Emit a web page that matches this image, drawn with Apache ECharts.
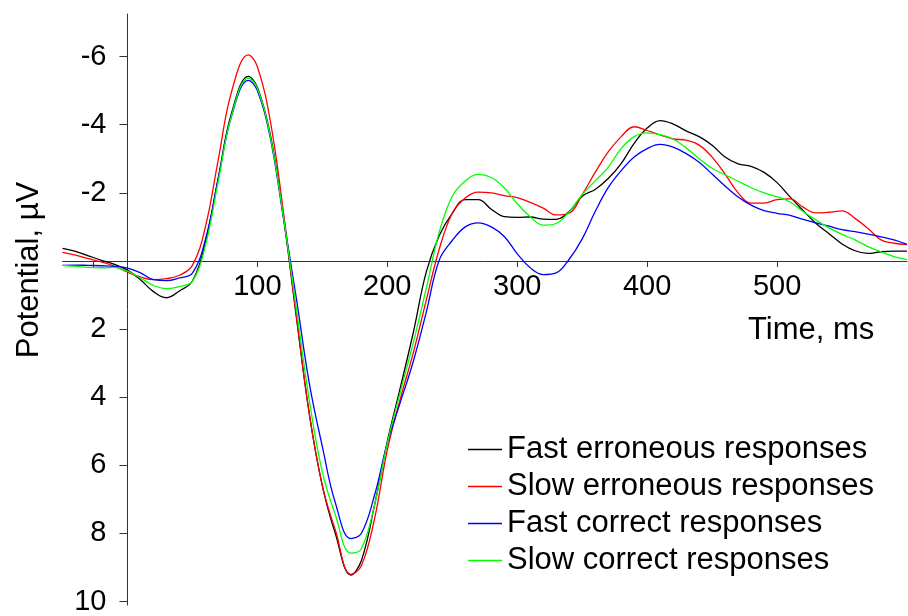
<!DOCTYPE html>
<html>
<head>
<meta charset="utf-8">
<script src="https://cdn.jsdelivr.net/npm/echarts@6/dist/echarts.min.js"></script>
<style>html,body{margin:0;padding:0;background:#fff}#c{width:908px;height:616px}</style>
</head>
<body>
<div id="c"></div>
<script>
const times = [-50,-40,-30,-20,-10,0,10,20,30,40,50,60,70,80,93,100,110,120,130,140,150,160,172,180,190,200,210,220,230,240,250,260,270,280,290,300,310,320,330,340,350,360,370,380,390,400,410,420,430,440,450,460,470,480,490,500,510,520,530,540,550,560,570,580,590,600];
const fastErroneous = [-0.37,-0.28,-0.15,-0.02,0.10,0.27,0.55,0.90,1.08,0.88,0.59,-0.55,-2.46,-4.32,-5.42,-5.10,-3.70,-1.30,1.65,4.50,6.60,8.00,9.22,8.80,7.20,5.30,3.72,2.10,0.32,-0.75,-1.40,-1.80,-1.80,-1.52,-1.30,-1.28,-1.29,-1.23,-1.22,-1.45,-1.90,-2.10,-2.42,-2.86,-3.45,-3.90,-4.12,-4.02,-3.82,-3.65,-3.40,-3.05,-2.85,-2.78,-2.60,-2.30,-1.88,-1.48,-1.10,-0.80,-0.50,-0.30,-0.22,-0.27,-0.29,-0.29];
const slowErroneous = [-0.25,-0.17,-0.07,0.03,0.15,0.33,0.47,0.55,0.52,0.42,0.13,-1.00,-3.00,-4.95,-6.05,-5.70,-4.10,-1.45,1.60,4.50,6.60,7.90,9.20,8.95,7.60,5.55,4.05,2.70,1.15,-0.35,-1.40,-1.85,-2.02,-2.00,-1.92,-1.86,-1.72,-1.55,-1.35,-1.40,-1.95,-2.60,-3.20,-3.65,-3.94,-3.83,-3.70,-3.58,-3.55,-3.40,-3.05,-2.55,-2.00,-1.70,-1.70,-1.80,-1.82,-1.58,-1.41,-1.43,-1.47,-1.25,-0.95,-0.62,-0.52,-0.48];
const fastCorrect = [0.13,0.12,0.13,0.14,0.16,0.21,0.35,0.55,0.58,0.50,0.36,-0.63,-2.44,-4.24,-5.30,-5.00,-3.60,-1.27,1.10,3.60,5.45,7.10,8.15,8.00,6.90,5.35,4.15,2.95,1.50,-0.03,-0.60,-1.00,-1.12,-1.00,-0.72,-0.21,0.20,0.40,0.35,-0.05,-0.65,-1.45,-2.15,-2.65,-3.05,-3.30,-3.42,-3.34,-3.15,-2.90,-2.55,-2.20,-1.88,-1.64,-1.48,-1.40,-1.34,-1.22,-1.12,-1.02,-0.92,-0.86,-0.79,-0.71,-0.62,-0.49];
const slowCorrect = [0.13,0.16,0.19,0.20,0.19,0.30,0.50,0.72,0.81,0.75,0.60,-0.45,-2.36,-4.25,-5.37,-5.07,-3.65,-1.30,1.40,4.10,6.20,7.45,8.58,8.45,7.20,5.35,3.85,2.40,0.80,-0.85,-1.90,-2.35,-2.54,-2.45,-2.15,-1.68,-1.30,-1.05,-1.10,-1.45,-1.95,-2.35,-2.75,-3.30,-3.65,-3.76,-3.71,-3.58,-3.32,-3.00,-2.72,-2.53,-2.34,-2.15,-2.00,-1.88,-1.73,-1.45,-1.20,-0.97,-0.78,-0.62,-0.42,-0.27,-0.13,-0.04];
const seriesNames = ['Fast erroneous responses','Slow erroneous responses','Fast correct responses','Slow correct responses'];
const seriesValues = [fastErroneous, slowErroneous, fastCorrect, slowCorrect];
const seriesColors = ['#000000','#ff0000','#0000ff','#00ff00'];
const xTickLabels = [100,200,300,400,500];
const xTicks = [-26,100,200,300,400,500];
const yTickLabels = [-6,-4,-2,2,4,6,8,10];

const FONT = 'Liberation Sans, Arial, sans-serif';
const X_MIN = -50, X_MAX = 600, Y_MIN = -7.25, Y_MAX = 10.1;
const G = {left: 62.5, right: 1, top: 14, bottom: 11};
const W = 908, H = 616;
const gw = W - G.left - G.right, gh = H - G.top - G.bottom;
// offsets so the axes sit on the zero lines
const yAxisOffset = -((0 - X_MIN) / (X_MAX - X_MIN) * gw);
const xAxisOffset = -((Y_MAX - 0) / (Y_MAX - Y_MIN) * gh);

const chart = echarts.init(document.getElementById('c'), null, {renderer:'canvas'});
chart.setOption({
  animation: false,
  backgroundColor: '#fff',
  color: seriesColors,
  grid: Object.assign({containLabel: false, outerBoundsMode: 'none'}, G),
  xAxis: {
    type: 'value', min: X_MIN, max: X_MAX, position: 'bottom', offset: xAxisOffset,
    axisLine: {onZero: false, lineStyle: {color: '#333', width: 1}},
    axisTick: {show: true, length: 6, customValues: xTicks, lineStyle: {color: '#333'}},
    axisLabel: {customValues: xTickLabels, color: '#000', fontSize: 29, fontFamily: FONT, margin: 12},
    splitLine: {show: false}
  },
  yAxis: {
    type: 'value', inverse: true, min: Y_MIN, max: Y_MAX, position: 'left', offset: yAxisOffset,
    axisLine: {show: true, onZero: false, lineStyle: {color: '#333', width: 1}},
    axisTick: {show: true, length: 8, customValues: yTickLabels, lineStyle: {color: '#333'}},
    axisLabel: {customValues: yTickLabels, color: '#000', fontSize: 29, fontFamily: FONT, margin: 21},
    splitLine: {show: false}
  },
  legend: {
    orient: 'vertical', left: 468, top: 431, padding: 0, itemWidth: 34, itemHeight: 1.4, itemGap: 0,
    icon: 'rect',
    textStyle: {fontSize: 31, fontFamily: FONT, color: '#000', lineHeight: 37},
    data: seriesNames.map((n, k) => ({name: n, itemStyle: {color: seriesColors[k]}}))
  },
  graphic: [
    {type: 'text', left: 748, top: 315, style: {text: 'Time, ms', font: '31px ' + FONT, fill: '#000'}},
    {type: 'text', x: 29, y: 270, rotation: Math.PI/2, style: {text: 'Potential, µV', font: '31px ' + FONT, fill: '#000', align: 'center', verticalAlign: 'middle'}}
  ],
  series: seriesNames.map((n, k) => ({
    name: n, type: 'line', symbol: 'none', smooth: 0.4,
    color: seriesColors[k],
    lineStyle: {color: seriesColors[k], width: 1.3},
    itemStyle: {color: seriesColors[k]},
    data: times.map((t, i) => [t, seriesValues[k][i]])
  }))
});
</script>
</body>
</html>
